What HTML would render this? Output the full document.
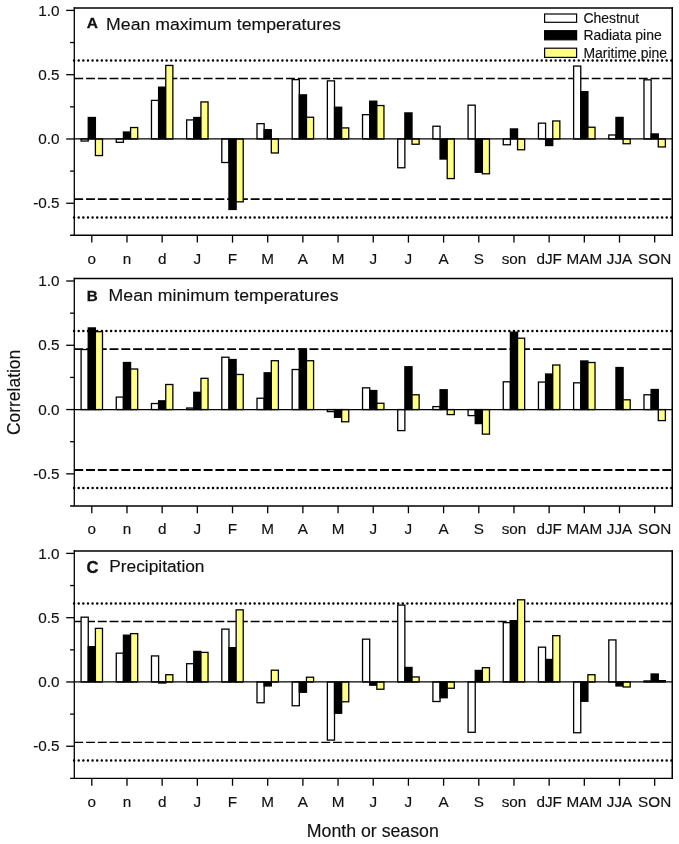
<!DOCTYPE html>
<html lang="en"><head><meta charset="utf-8"><title>Correlation by month or season</title>
<style>html,body{margin:0;padding:0;background:#fff}svg{display:block}</style></head>
<body>
<svg width="679" height="844" viewBox="0 0 679 844" font-family='"Liberation Sans", Arial, Helvetica, sans-serif' fill="#111" stroke="#111" stroke-width="0">
<rect width="679" height="844" fill="#fff"/>
<g><line x1="74.07" x2="673.4" y1="60.41" y2="60.41" stroke="#000" stroke-width="2.5" stroke-dasharray="0 4.63" stroke-linecap="round"/>
<line x1="74.07" x2="673.4" y1="217.46" y2="217.46" stroke="#000" stroke-width="2.5" stroke-dasharray="0 4.63" stroke-linecap="round"/>
<line x1="74.3" x2="672.4" y1="78.54" y2="78.54" stroke="#000" stroke-width="1.4" stroke-dasharray="8.9 2.86"/>
<line x1="74.3" x2="672.4" y1="199.21" y2="199.21" stroke="#000" stroke-width="1.8" stroke-dasharray="8.9 2.86"/>
<rect x="81.10" y="138.97" width="7.15" height="2.06" fill="#fff" stroke="#000" stroke-width="1.3"/>
<rect x="88.25" y="117.50" width="7.15" height="21.47" fill="#000" stroke="#000" stroke-width="1.3"/>
<rect x="95.40" y="138.97" width="7.10" height="16.59" fill="#ffff85" stroke="#000" stroke-width="1.3"/>
<rect x="116.28" y="138.97" width="7.15" height="3.34" fill="#fff" stroke="#000" stroke-width="1.3"/>
<rect x="123.43" y="132.03" width="7.15" height="6.94" fill="#000" stroke="#000" stroke-width="1.3"/>
<rect x="130.58" y="127.53" width="7.10" height="11.44" fill="#ffff85" stroke="#000" stroke-width="1.3"/>
<rect x="151.46" y="100.40" width="7.15" height="38.57" fill="#fff" stroke="#000" stroke-width="1.3"/>
<rect x="158.61" y="87.16" width="7.15" height="51.81" fill="#000" stroke="#000" stroke-width="1.3"/>
<rect x="165.76" y="65.43" width="7.10" height="73.54" fill="#ffff85" stroke="#000" stroke-width="1.3"/>
<rect x="186.64" y="119.94" width="7.15" height="19.03" fill="#fff" stroke="#000" stroke-width="1.3"/>
<rect x="193.79" y="117.50" width="7.15" height="21.47" fill="#000" stroke="#000" stroke-width="1.3"/>
<rect x="200.94" y="101.94" width="7.10" height="37.03" fill="#ffff85" stroke="#000" stroke-width="1.3"/>
<rect x="221.82" y="138.97" width="7.15" height="23.53" fill="#fff" stroke="#000" stroke-width="1.3"/>
<rect x="228.97" y="138.97" width="7.15" height="70.46" fill="#000" stroke="#000" stroke-width="1.3"/>
<rect x="236.12" y="138.97" width="7.10" height="62.87" fill="#ffff85" stroke="#000" stroke-width="1.3"/>
<rect x="257.00" y="123.67" width="7.15" height="15.30" fill="#fff" stroke="#000" stroke-width="1.3"/>
<rect x="264.15" y="129.71" width="7.15" height="9.26" fill="#000" stroke="#000" stroke-width="1.3"/>
<rect x="271.30" y="138.97" width="7.10" height="14.01" fill="#ffff85" stroke="#000" stroke-width="1.3"/>
<rect x="292.18" y="79.63" width="7.15" height="59.34" fill="#fff" stroke="#000" stroke-width="1.3"/>
<rect x="299.33" y="94.87" width="7.15" height="44.10" fill="#000" stroke="#000" stroke-width="1.3"/>
<rect x="306.48" y="117.24" width="7.10" height="21.73" fill="#ffff85" stroke="#000" stroke-width="1.3"/>
<rect x="327.36" y="80.86" width="7.15" height="58.11" fill="#fff" stroke="#000" stroke-width="1.3"/>
<rect x="334.51" y="107.21" width="7.15" height="31.76" fill="#000" stroke="#000" stroke-width="1.3"/>
<rect x="341.66" y="127.91" width="7.10" height="11.06" fill="#ffff85" stroke="#000" stroke-width="1.3"/>
<rect x="362.54" y="114.67" width="7.15" height="24.30" fill="#fff" stroke="#000" stroke-width="1.3"/>
<rect x="369.69" y="101.17" width="7.15" height="37.80" fill="#000" stroke="#000" stroke-width="1.3"/>
<rect x="376.84" y="105.54" width="7.10" height="33.43" fill="#ffff85" stroke="#000" stroke-width="1.3"/>
<rect x="397.72" y="138.97" width="7.15" height="28.80" fill="#fff" stroke="#000" stroke-width="1.3"/>
<rect x="404.87" y="112.93" width="7.15" height="26.04" fill="#000" stroke="#000" stroke-width="1.3"/>
<rect x="412.02" y="138.97" width="7.10" height="5.27" fill="#ffff85" stroke="#000" stroke-width="1.3"/>
<rect x="432.90" y="126.24" width="7.15" height="12.73" fill="#fff" stroke="#000" stroke-width="1.3"/>
<rect x="440.05" y="138.97" width="7.15" height="20.06" fill="#000" stroke="#000" stroke-width="1.3"/>
<rect x="447.20" y="138.97" width="7.10" height="39.60" fill="#ffff85" stroke="#000" stroke-width="1.3"/>
<rect x="468.08" y="105.16" width="7.15" height="33.81" fill="#fff" stroke="#000" stroke-width="1.3"/>
<rect x="475.23" y="138.97" width="7.15" height="33.30" fill="#000" stroke="#000" stroke-width="1.3"/>
<rect x="482.38" y="138.97" width="7.10" height="34.84" fill="#ffff85" stroke="#000" stroke-width="1.3"/>
<rect x="503.26" y="138.97" width="7.15" height="5.79" fill="#fff" stroke="#000" stroke-width="1.3"/>
<rect x="510.41" y="128.94" width="7.15" height="10.03" fill="#000" stroke="#000" stroke-width="1.3"/>
<rect x="517.56" y="138.97" width="7.10" height="10.80" fill="#ffff85" stroke="#000" stroke-width="1.3"/>
<rect x="538.44" y="123.16" width="7.15" height="15.81" fill="#fff" stroke="#000" stroke-width="1.3"/>
<rect x="545.59" y="138.97" width="7.15" height="6.56" fill="#000" stroke="#000" stroke-width="1.3"/>
<rect x="552.74" y="120.97" width="7.10" height="18.00" fill="#ffff85" stroke="#000" stroke-width="1.3"/>
<rect x="573.62" y="66.07" width="7.15" height="72.90" fill="#fff" stroke="#000" stroke-width="1.3"/>
<rect x="580.77" y="91.66" width="7.15" height="47.31" fill="#000" stroke="#000" stroke-width="1.3"/>
<rect x="587.92" y="127.21" width="7.10" height="11.76" fill="#ffff85" stroke="#000" stroke-width="1.3"/>
<rect x="608.80" y="134.98" width="7.15" height="3.99" fill="#fff" stroke="#000" stroke-width="1.3"/>
<rect x="615.95" y="117.43" width="7.15" height="21.54" fill="#000" stroke="#000" stroke-width="1.3"/>
<rect x="623.10" y="138.97" width="7.10" height="4.76" fill="#ffff85" stroke="#000" stroke-width="1.3"/>
<rect x="643.98" y="79.83" width="7.15" height="59.14" fill="#fff" stroke="#000" stroke-width="1.3"/>
<rect x="651.13" y="133.96" width="7.15" height="5.01" fill="#000" stroke="#000" stroke-width="1.3"/>
<rect x="658.28" y="138.97" width="7.10" height="7.97" fill="#ffff85" stroke="#000" stroke-width="1.3"/>
<line x1="74.3" x2="672.4" y1="138.97" y2="138.97" stroke="#000" stroke-width="1.3"/>
<line x1="74.3" x2="74.3" y1="7.2" y2="235.9" stroke="#000" stroke-width="1.3"/>
<line x1="672.25" x2="672.25" y1="7.2" y2="235.9" stroke="#000" stroke-width="1.55"/>
<line x1="73.7" x2="673.0" y1="7.9" y2="7.9" stroke="#000" stroke-width="1.5"/>
<line x1="70.1" x2="673.0" y1="235.3" y2="235.3" stroke="#000" stroke-width="1.5"/>
<line x1="66.2" x2="74.3" y1="10.40" y2="10.40" stroke="#000" stroke-width="1.3"/>
<text transform="translate(59.60,15.50) scale(1.055,1)" font-size="14.5" text-anchor="end" stroke-width="0.15">1.0</text>
<line x1="66.2" x2="74.3" y1="74.69" y2="74.69" stroke="#000" stroke-width="1.3"/>
<text transform="translate(59.60,79.78) scale(1.055,1)" font-size="14.5" text-anchor="end" stroke-width="0.15">0.5</text>
<line x1="66.2" x2="74.3" y1="138.97" y2="138.97" stroke="#000" stroke-width="1.3"/>
<text transform="translate(59.60,144.07) scale(1.055,1)" font-size="14.5" text-anchor="end" stroke-width="0.15">0.0</text>
<line x1="66.2" x2="74.3" y1="203.25" y2="203.25" stroke="#000" stroke-width="1.3"/>
<text transform="translate(59.60,208.35) scale(1.055,1)" font-size="14.5" text-anchor="end" stroke-width="0.15">-0.5</text>
<line x1="70.1" x2="74.3" y1="42.54" y2="42.54" stroke="#000" stroke-width="1.3"/>
<line x1="70.1" x2="74.3" y1="106.83" y2="106.83" stroke="#000" stroke-width="1.3"/>
<line x1="70.1" x2="74.3" y1="171.11" y2="171.11" stroke="#000" stroke-width="1.3"/>
<line x1="91.80" x2="91.80" y1="235.3" y2="242.60000000000002" stroke="#000" stroke-width="1.3"/>
<text transform="translate(91.80,263.70) scale(1.055,1)" font-size="14.5" text-anchor="middle" stroke-width="0.15">o</text>
<line x1="126.98" x2="126.98" y1="235.3" y2="242.60000000000002" stroke="#000" stroke-width="1.3"/>
<text transform="translate(126.98,263.70) scale(1.055,1)" font-size="14.5" text-anchor="middle" stroke-width="0.15">n</text>
<line x1="162.16" x2="162.16" y1="235.3" y2="242.60000000000002" stroke="#000" stroke-width="1.3"/>
<text transform="translate(162.16,263.70) scale(1.055,1)" font-size="14.5" text-anchor="middle" stroke-width="0.15">d</text>
<line x1="197.34" x2="197.34" y1="235.3" y2="242.60000000000002" stroke="#000" stroke-width="1.3"/>
<text transform="translate(197.34,263.70) scale(1.055,1)" font-size="14.5" text-anchor="middle" stroke-width="0.15">J</text>
<line x1="232.52" x2="232.52" y1="235.3" y2="242.60000000000002" stroke="#000" stroke-width="1.3"/>
<text transform="translate(232.52,263.70) scale(1.055,1)" font-size="14.5" text-anchor="middle" stroke-width="0.15">F</text>
<line x1="267.70" x2="267.70" y1="235.3" y2="242.60000000000002" stroke="#000" stroke-width="1.3"/>
<text transform="translate(267.70,263.70) scale(1.055,1)" font-size="14.5" text-anchor="middle" stroke-width="0.15">M</text>
<line x1="302.88" x2="302.88" y1="235.3" y2="242.60000000000002" stroke="#000" stroke-width="1.3"/>
<text transform="translate(302.88,263.70) scale(1.055,1)" font-size="14.5" text-anchor="middle" stroke-width="0.15">A</text>
<line x1="338.06" x2="338.06" y1="235.3" y2="242.60000000000002" stroke="#000" stroke-width="1.3"/>
<text transform="translate(338.06,263.70) scale(1.055,1)" font-size="14.5" text-anchor="middle" stroke-width="0.15">M</text>
<line x1="373.24" x2="373.24" y1="235.3" y2="242.60000000000002" stroke="#000" stroke-width="1.3"/>
<text transform="translate(373.24,263.70) scale(1.055,1)" font-size="14.5" text-anchor="middle" stroke-width="0.15">J</text>
<line x1="408.42" x2="408.42" y1="235.3" y2="242.60000000000002" stroke="#000" stroke-width="1.3"/>
<text transform="translate(408.42,263.70) scale(1.055,1)" font-size="14.5" text-anchor="middle" stroke-width="0.15">J</text>
<line x1="443.60" x2="443.60" y1="235.3" y2="242.60000000000002" stroke="#000" stroke-width="1.3"/>
<text transform="translate(443.60,263.70) scale(1.055,1)" font-size="14.5" text-anchor="middle" stroke-width="0.15">A</text>
<line x1="478.78" x2="478.78" y1="235.3" y2="242.60000000000002" stroke="#000" stroke-width="1.3"/>
<text transform="translate(478.78,263.70) scale(1.055,1)" font-size="14.5" text-anchor="middle" stroke-width="0.15">S</text>
<line x1="513.96" x2="513.96" y1="235.3" y2="242.60000000000002" stroke="#000" stroke-width="1.3"/>
<text transform="translate(513.96,263.70) scale(1.055,1)" font-size="14.5" text-anchor="middle" stroke-width="0.15">son</text>
<line x1="549.14" x2="549.14" y1="235.3" y2="242.60000000000002" stroke="#000" stroke-width="1.3"/>
<text transform="translate(549.14,263.70) scale(1.055,1)" font-size="14.5" text-anchor="middle" stroke-width="0.15">dJF</text>
<line x1="584.32" x2="584.32" y1="235.3" y2="242.60000000000002" stroke="#000" stroke-width="1.3"/>
<text transform="translate(584.32,263.70) scale(1.055,1)" font-size="14.5" text-anchor="middle" stroke-width="0.15">MAM</text>
<line x1="619.50" x2="619.50" y1="235.3" y2="242.60000000000002" stroke="#000" stroke-width="1.3"/>
<text transform="translate(619.50,263.70) scale(1.055,1)" font-size="14.5" text-anchor="middle" stroke-width="0.15">JJA</text>
<line x1="654.68" x2="654.68" y1="235.3" y2="242.60000000000002" stroke="#000" stroke-width="1.3"/>
<text transform="translate(654.68,263.70) scale(1.055,1)" font-size="14.5" text-anchor="middle" stroke-width="0.15">SON</text>
<text transform="translate(86.70,28.20)" font-size="15.5" font-weight="bold" stroke-width="0.3">A</text>
<text transform="translate(106.10,30.10) scale(1.028,1)" font-size="17.2" stroke-width="0.15">Mean maximum temperatures</text></g>
<g><line x1="74.07" x2="673.4" y1="331.01" y2="331.01" stroke="#000" stroke-width="2.5" stroke-dasharray="0 4.63" stroke-linecap="round"/>
<line x1="74.07" x2="673.4" y1="488.06" y2="488.06" stroke="#000" stroke-width="2.5" stroke-dasharray="0 4.63" stroke-linecap="round"/>
<line x1="74.3" x2="672.4" y1="349.14" y2="349.14" stroke="#000" stroke-width="1.6" stroke-dasharray="8.9 2.86"/>
<line x1="74.3" x2="672.4" y1="470.00" y2="470.00" stroke="#000" stroke-width="1.8" stroke-dasharray="8.9 2.86"/>
<rect x="81.10" y="349.53" width="7.15" height="60.04" fill="#fff" stroke="#000" stroke-width="1.3"/>
<rect x="88.25" y="327.93" width="7.15" height="81.64" fill="#000" stroke="#000" stroke-width="1.3"/>
<rect x="95.40" y="331.66" width="7.10" height="77.91" fill="#ffff85" stroke="#000" stroke-width="1.3"/>
<rect x="116.28" y="397.10" width="7.15" height="12.47" fill="#fff" stroke="#000" stroke-width="1.3"/>
<rect x="123.43" y="362.51" width="7.15" height="47.06" fill="#000" stroke="#000" stroke-width="1.3"/>
<rect x="130.58" y="369.01" width="7.10" height="40.56" fill="#ffff85" stroke="#000" stroke-width="1.3"/>
<rect x="151.46" y="403.53" width="7.15" height="6.04" fill="#fff" stroke="#000" stroke-width="1.3"/>
<rect x="158.61" y="400.83" width="7.15" height="8.74" fill="#000" stroke="#000" stroke-width="1.3"/>
<rect x="165.76" y="384.50" width="7.10" height="25.07" fill="#ffff85" stroke="#000" stroke-width="1.3"/>
<rect x="186.64" y="408.03" width="7.15" height="1.54" fill="#fff" stroke="#000" stroke-width="1.3"/>
<rect x="193.79" y="392.34" width="7.15" height="17.23" fill="#000" stroke="#000" stroke-width="1.3"/>
<rect x="200.94" y="378.33" width="7.10" height="31.24" fill="#ffff85" stroke="#000" stroke-width="1.3"/>
<rect x="221.82" y="357.24" width="7.15" height="52.33" fill="#fff" stroke="#000" stroke-width="1.3"/>
<rect x="228.97" y="359.56" width="7.15" height="50.01" fill="#000" stroke="#000" stroke-width="1.3"/>
<rect x="236.12" y="374.47" width="7.10" height="35.10" fill="#ffff85" stroke="#000" stroke-width="1.3"/>
<rect x="257.00" y="398.26" width="7.15" height="11.31" fill="#fff" stroke="#000" stroke-width="1.3"/>
<rect x="264.15" y="372.80" width="7.15" height="36.77" fill="#000" stroke="#000" stroke-width="1.3"/>
<rect x="271.30" y="360.71" width="7.10" height="48.86" fill="#ffff85" stroke="#000" stroke-width="1.3"/>
<rect x="292.18" y="369.51" width="7.15" height="40.06" fill="#fff" stroke="#000" stroke-width="1.3"/>
<rect x="299.33" y="349.01" width="7.15" height="60.56" fill="#000" stroke="#000" stroke-width="1.3"/>
<rect x="306.48" y="360.71" width="7.10" height="48.86" fill="#ffff85" stroke="#000" stroke-width="1.3"/>
<rect x="327.36" y="409.57" width="7.15" height="2.06" fill="#fff" stroke="#000" stroke-width="1.3"/>
<rect x="334.51" y="409.57" width="7.15" height="7.71" fill="#000" stroke="#000" stroke-width="1.3"/>
<rect x="341.66" y="409.57" width="7.10" height="12.21" fill="#ffff85" stroke="#000" stroke-width="1.3"/>
<rect x="362.54" y="387.84" width="7.15" height="21.73" fill="#fff" stroke="#000" stroke-width="1.3"/>
<rect x="369.69" y="390.54" width="7.15" height="19.03" fill="#000" stroke="#000" stroke-width="1.3"/>
<rect x="376.84" y="403.27" width="7.10" height="6.30" fill="#ffff85" stroke="#000" stroke-width="1.3"/>
<rect x="397.72" y="409.57" width="7.15" height="21.03" fill="#fff" stroke="#000" stroke-width="1.3"/>
<rect x="404.87" y="366.76" width="7.15" height="42.81" fill="#000" stroke="#000" stroke-width="1.3"/>
<rect x="412.02" y="394.78" width="7.10" height="14.79" fill="#ffff85" stroke="#000" stroke-width="1.3"/>
<rect x="432.90" y="406.61" width="7.15" height="2.96" fill="#fff" stroke="#000" stroke-width="1.3"/>
<rect x="440.05" y="389.77" width="7.15" height="19.80" fill="#000" stroke="#000" stroke-width="1.3"/>
<rect x="447.20" y="409.57" width="7.10" height="5.01" fill="#ffff85" stroke="#000" stroke-width="1.3"/>
<rect x="468.08" y="409.57" width="7.15" height="6.04" fill="#fff" stroke="#000" stroke-width="1.3"/>
<rect x="475.23" y="409.57" width="7.15" height="14.01" fill="#000" stroke="#000" stroke-width="1.3"/>
<rect x="482.38" y="409.57" width="7.10" height="24.56" fill="#ffff85" stroke="#000" stroke-width="1.3"/>
<rect x="503.26" y="381.80" width="7.15" height="27.77" fill="#fff" stroke="#000" stroke-width="1.3"/>
<rect x="510.41" y="332.17" width="7.15" height="77.40" fill="#000" stroke="#000" stroke-width="1.3"/>
<rect x="517.56" y="338.21" width="7.10" height="71.36" fill="#ffff85" stroke="#000" stroke-width="1.3"/>
<rect x="538.44" y="382.06" width="7.15" height="27.51" fill="#fff" stroke="#000" stroke-width="1.3"/>
<rect x="545.59" y="374.02" width="7.15" height="35.55" fill="#000" stroke="#000" stroke-width="1.3"/>
<rect x="552.74" y="365.01" width="7.10" height="44.56" fill="#ffff85" stroke="#000" stroke-width="1.3"/>
<rect x="573.62" y="382.83" width="7.15" height="26.74" fill="#fff" stroke="#000" stroke-width="1.3"/>
<rect x="580.77" y="360.97" width="7.15" height="48.60" fill="#000" stroke="#000" stroke-width="1.3"/>
<rect x="587.92" y="362.51" width="7.10" height="47.06" fill="#ffff85" stroke="#000" stroke-width="1.3"/>
<rect x="608.80" y="409.57" width="7.15" height="0.00" fill="#fff" stroke="#000" stroke-width="1.3"/>
<rect x="615.95" y="367.53" width="7.15" height="42.04" fill="#000" stroke="#000" stroke-width="1.3"/>
<rect x="623.10" y="399.80" width="7.10" height="9.77" fill="#ffff85" stroke="#000" stroke-width="1.3"/>
<rect x="643.98" y="394.78" width="7.15" height="14.79" fill="#fff" stroke="#000" stroke-width="1.3"/>
<rect x="651.13" y="389.51" width="7.15" height="20.06" fill="#000" stroke="#000" stroke-width="1.3"/>
<rect x="658.28" y="409.57" width="7.10" height="11.02" fill="#ffff85" stroke="#000" stroke-width="1.3"/>
<line x1="74.3" x2="672.4" y1="409.57" y2="409.57" stroke="#000" stroke-width="1.3"/>
<line x1="74.3" x2="74.3" y1="277.7" y2="506.55" stroke="#000" stroke-width="1.3"/>
<line x1="672.25" x2="672.25" y1="277.7" y2="506.55" stroke="#000" stroke-width="1.55"/>
<line x1="73.7" x2="673.0" y1="278.4" y2="278.4" stroke="#000" stroke-width="1.5"/>
<line x1="70.1" x2="673.0" y1="505.95" y2="505.95" stroke="#000" stroke-width="1.65"/>
<line x1="66.2" x2="74.3" y1="281.00" y2="281.00" stroke="#000" stroke-width="1.3"/>
<text transform="translate(59.60,286.10) scale(1.055,1)" font-size="14.5" text-anchor="end" stroke-width="0.15">1.0</text>
<line x1="66.2" x2="74.3" y1="345.28" y2="345.28" stroke="#000" stroke-width="1.3"/>
<text transform="translate(59.60,350.38) scale(1.055,1)" font-size="14.5" text-anchor="end" stroke-width="0.15">0.5</text>
<line x1="66.2" x2="74.3" y1="409.57" y2="409.57" stroke="#000" stroke-width="1.3"/>
<text transform="translate(59.60,414.67) scale(1.055,1)" font-size="14.5" text-anchor="end" stroke-width="0.15">0.0</text>
<line x1="66.2" x2="74.3" y1="473.86" y2="473.86" stroke="#000" stroke-width="1.3"/>
<text transform="translate(59.60,478.96) scale(1.055,1)" font-size="14.5" text-anchor="end" stroke-width="0.15">-0.5</text>
<line x1="70.1" x2="74.3" y1="313.14" y2="313.14" stroke="#000" stroke-width="1.3"/>
<line x1="70.1" x2="74.3" y1="377.43" y2="377.43" stroke="#000" stroke-width="1.3"/>
<line x1="70.1" x2="74.3" y1="441.71" y2="441.71" stroke="#000" stroke-width="1.3"/>
<line x1="91.80" x2="91.80" y1="505.95" y2="513.25" stroke="#000" stroke-width="1.3"/>
<text transform="translate(91.80,534.35) scale(1.055,1)" font-size="14.5" text-anchor="middle" stroke-width="0.15">o</text>
<line x1="126.98" x2="126.98" y1="505.95" y2="513.25" stroke="#000" stroke-width="1.3"/>
<text transform="translate(126.98,534.35) scale(1.055,1)" font-size="14.5" text-anchor="middle" stroke-width="0.15">n</text>
<line x1="162.16" x2="162.16" y1="505.95" y2="513.25" stroke="#000" stroke-width="1.3"/>
<text transform="translate(162.16,534.35) scale(1.055,1)" font-size="14.5" text-anchor="middle" stroke-width="0.15">d</text>
<line x1="197.34" x2="197.34" y1="505.95" y2="513.25" stroke="#000" stroke-width="1.3"/>
<text transform="translate(197.34,534.35) scale(1.055,1)" font-size="14.5" text-anchor="middle" stroke-width="0.15">J</text>
<line x1="232.52" x2="232.52" y1="505.95" y2="513.25" stroke="#000" stroke-width="1.3"/>
<text transform="translate(232.52,534.35) scale(1.055,1)" font-size="14.5" text-anchor="middle" stroke-width="0.15">F</text>
<line x1="267.70" x2="267.70" y1="505.95" y2="513.25" stroke="#000" stroke-width="1.3"/>
<text transform="translate(267.70,534.35) scale(1.055,1)" font-size="14.5" text-anchor="middle" stroke-width="0.15">M</text>
<line x1="302.88" x2="302.88" y1="505.95" y2="513.25" stroke="#000" stroke-width="1.3"/>
<text transform="translate(302.88,534.35) scale(1.055,1)" font-size="14.5" text-anchor="middle" stroke-width="0.15">A</text>
<line x1="338.06" x2="338.06" y1="505.95" y2="513.25" stroke="#000" stroke-width="1.3"/>
<text transform="translate(338.06,534.35) scale(1.055,1)" font-size="14.5" text-anchor="middle" stroke-width="0.15">M</text>
<line x1="373.24" x2="373.24" y1="505.95" y2="513.25" stroke="#000" stroke-width="1.3"/>
<text transform="translate(373.24,534.35) scale(1.055,1)" font-size="14.5" text-anchor="middle" stroke-width="0.15">J</text>
<line x1="408.42" x2="408.42" y1="505.95" y2="513.25" stroke="#000" stroke-width="1.3"/>
<text transform="translate(408.42,534.35) scale(1.055,1)" font-size="14.5" text-anchor="middle" stroke-width="0.15">J</text>
<line x1="443.60" x2="443.60" y1="505.95" y2="513.25" stroke="#000" stroke-width="1.3"/>
<text transform="translate(443.60,534.35) scale(1.055,1)" font-size="14.5" text-anchor="middle" stroke-width="0.15">A</text>
<line x1="478.78" x2="478.78" y1="505.95" y2="513.25" stroke="#000" stroke-width="1.3"/>
<text transform="translate(478.78,534.35) scale(1.055,1)" font-size="14.5" text-anchor="middle" stroke-width="0.15">S</text>
<line x1="513.96" x2="513.96" y1="505.95" y2="513.25" stroke="#000" stroke-width="1.3"/>
<text transform="translate(513.96,534.35) scale(1.055,1)" font-size="14.5" text-anchor="middle" stroke-width="0.15">son</text>
<line x1="549.14" x2="549.14" y1="505.95" y2="513.25" stroke="#000" stroke-width="1.3"/>
<text transform="translate(549.14,534.35) scale(1.055,1)" font-size="14.5" text-anchor="middle" stroke-width="0.15">dJF</text>
<line x1="584.32" x2="584.32" y1="505.95" y2="513.25" stroke="#000" stroke-width="1.3"/>
<text transform="translate(584.32,534.35) scale(1.055,1)" font-size="14.5" text-anchor="middle" stroke-width="0.15">MAM</text>
<line x1="619.50" x2="619.50" y1="505.95" y2="513.25" stroke="#000" stroke-width="1.3"/>
<text transform="translate(619.50,534.35) scale(1.055,1)" font-size="14.5" text-anchor="middle" stroke-width="0.15">JJA</text>
<line x1="654.68" x2="654.68" y1="505.95" y2="513.25" stroke="#000" stroke-width="1.3"/>
<text transform="translate(654.68,534.35) scale(1.055,1)" font-size="14.5" text-anchor="middle" stroke-width="0.15">SON</text>
<text transform="translate(86.70,300.70)" font-size="15.2" font-weight="bold" stroke-width="0.3">B</text>
<text transform="translate(108.60,300.70) scale(1.028,1)" font-size="17.2" stroke-width="0.15">Mean minimum temperatures</text></g>
<g><line x1="74.07" x2="673.4" y1="603.41" y2="603.41" stroke="#000" stroke-width="2.5" stroke-dasharray="0 4.63" stroke-linecap="round"/>
<line x1="74.07" x2="673.4" y1="760.46" y2="760.46" stroke="#000" stroke-width="2.5" stroke-dasharray="0 4.63" stroke-linecap="round"/>
<line x1="74.3" x2="672.4" y1="621.54" y2="621.54" stroke="#000" stroke-width="1.5" stroke-dasharray="8.9 2.86"/>
<line x1="74.3" x2="672.4" y1="742.40" y2="742.40" stroke="#000" stroke-width="1.1" stroke-dasharray="8.9 2.86"/>
<rect x="81.10" y="617.17" width="7.15" height="64.80" fill="#fff" stroke="#000" stroke-width="1.3"/>
<rect x="88.25" y="646.66" width="7.15" height="35.31" fill="#000" stroke="#000" stroke-width="1.3"/>
<rect x="95.40" y="628.39" width="7.10" height="53.58" fill="#ffff85" stroke="#000" stroke-width="1.3"/>
<rect x="116.28" y="653.17" width="7.15" height="28.80" fill="#fff" stroke="#000" stroke-width="1.3"/>
<rect x="123.43" y="635.17" width="7.15" height="46.80" fill="#000" stroke="#000" stroke-width="1.3"/>
<rect x="130.58" y="633.63" width="7.10" height="48.34" fill="#ffff85" stroke="#000" stroke-width="1.3"/>
<rect x="151.46" y="655.93" width="7.15" height="26.04" fill="#fff" stroke="#000" stroke-width="1.3"/>
<rect x="158.61" y="681.97" width="7.15" height="1.03" fill="#000" stroke="#000" stroke-width="1.3"/>
<rect x="165.76" y="674.71" width="7.10" height="7.26" fill="#ffff85" stroke="#000" stroke-width="1.3"/>
<rect x="186.64" y="663.71" width="7.15" height="18.26" fill="#fff" stroke="#000" stroke-width="1.3"/>
<rect x="193.79" y="651.42" width="7.15" height="30.55" fill="#000" stroke="#000" stroke-width="1.3"/>
<rect x="200.94" y="652.40" width="7.10" height="29.57" fill="#ffff85" stroke="#000" stroke-width="1.3"/>
<rect x="221.82" y="629.13" width="7.15" height="52.84" fill="#fff" stroke="#000" stroke-width="1.3"/>
<rect x="228.97" y="647.64" width="7.15" height="34.33" fill="#000" stroke="#000" stroke-width="1.3"/>
<rect x="236.12" y="609.84" width="7.10" height="72.13" fill="#ffff85" stroke="#000" stroke-width="1.3"/>
<rect x="257.00" y="681.97" width="7.15" height="20.78" fill="#fff" stroke="#000" stroke-width="1.3"/>
<rect x="264.15" y="681.97" width="7.15" height="3.99" fill="#000" stroke="#000" stroke-width="1.3"/>
<rect x="271.30" y="670.21" width="7.10" height="11.76" fill="#ffff85" stroke="#000" stroke-width="1.3"/>
<rect x="292.18" y="681.97" width="7.15" height="23.79" fill="#fff" stroke="#000" stroke-width="1.3"/>
<rect x="299.33" y="681.97" width="7.15" height="10.29" fill="#000" stroke="#000" stroke-width="1.3"/>
<rect x="306.48" y="677.21" width="7.10" height="4.76" fill="#ffff85" stroke="#000" stroke-width="1.3"/>
<rect x="327.36" y="681.97" width="7.15" height="58.11" fill="#fff" stroke="#000" stroke-width="1.3"/>
<rect x="334.51" y="681.97" width="7.15" height="31.29" fill="#000" stroke="#000" stroke-width="1.3"/>
<rect x="341.66" y="681.97" width="7.10" height="19.80" fill="#ffff85" stroke="#000" stroke-width="1.3"/>
<rect x="362.54" y="639.16" width="7.15" height="42.81" fill="#fff" stroke="#000" stroke-width="1.3"/>
<rect x="369.69" y="681.97" width="7.15" height="3.21" fill="#000" stroke="#000" stroke-width="1.3"/>
<rect x="376.84" y="681.97" width="7.10" height="7.26" fill="#ffff85" stroke="#000" stroke-width="1.3"/>
<rect x="397.72" y="605.09" width="7.15" height="76.88" fill="#fff" stroke="#000" stroke-width="1.3"/>
<rect x="404.87" y="667.44" width="7.15" height="14.53" fill="#000" stroke="#000" stroke-width="1.3"/>
<rect x="412.02" y="676.96" width="7.10" height="5.01" fill="#ffff85" stroke="#000" stroke-width="1.3"/>
<rect x="432.90" y="681.97" width="7.15" height="19.54" fill="#fff" stroke="#000" stroke-width="1.3"/>
<rect x="440.05" y="681.97" width="7.15" height="15.78" fill="#000" stroke="#000" stroke-width="1.3"/>
<rect x="447.20" y="681.97" width="7.10" height="6.26" fill="#ffff85" stroke="#000" stroke-width="1.3"/>
<rect x="468.08" y="681.97" width="7.15" height="50.32" fill="#fff" stroke="#000" stroke-width="1.3"/>
<rect x="475.23" y="670.45" width="7.15" height="11.52" fill="#000" stroke="#000" stroke-width="1.3"/>
<rect x="482.38" y="667.70" width="7.10" height="14.27" fill="#ffff85" stroke="#000" stroke-width="1.3"/>
<rect x="503.26" y="622.63" width="7.15" height="59.34" fill="#fff" stroke="#000" stroke-width="1.3"/>
<rect x="510.41" y="620.64" width="7.15" height="61.33" fill="#000" stroke="#000" stroke-width="1.3"/>
<rect x="517.56" y="599.81" width="7.10" height="82.16" fill="#ffff85" stroke="#000" stroke-width="1.3"/>
<rect x="538.44" y="647.17" width="7.15" height="34.80" fill="#fff" stroke="#000" stroke-width="1.3"/>
<rect x="545.59" y="659.47" width="7.15" height="22.50" fill="#000" stroke="#000" stroke-width="1.3"/>
<rect x="552.74" y="635.68" width="7.10" height="46.29" fill="#ffff85" stroke="#000" stroke-width="1.3"/>
<rect x="573.62" y="681.97" width="7.15" height="50.79" fill="#fff" stroke="#000" stroke-width="1.3"/>
<rect x="580.77" y="681.97" width="7.15" height="19.29" fill="#000" stroke="#000" stroke-width="1.3"/>
<rect x="587.92" y="674.71" width="7.10" height="7.26" fill="#ffff85" stroke="#000" stroke-width="1.3"/>
<rect x="608.80" y="639.93" width="7.15" height="42.04" fill="#fff" stroke="#000" stroke-width="1.3"/>
<rect x="615.95" y="681.97" width="7.15" height="3.99" fill="#000" stroke="#000" stroke-width="1.3"/>
<rect x="623.10" y="681.97" width="7.10" height="5.01" fill="#ffff85" stroke="#000" stroke-width="1.3"/>
<rect x="643.98" y="680.94" width="7.15" height="1.03" fill="#fff" stroke="#000" stroke-width="1.3"/>
<rect x="651.13" y="674.00" width="7.15" height="7.97" fill="#000" stroke="#000" stroke-width="1.3"/>
<rect x="658.28" y="680.68" width="7.10" height="1.29" fill="#ffff85" stroke="#000" stroke-width="1.3"/>
<line x1="74.3" x2="672.4" y1="681.97" y2="681.97" stroke="#000" stroke-width="1.3"/>
<line x1="74.3" x2="74.3" y1="550.3" y2="779.0" stroke="#000" stroke-width="1.3"/>
<line x1="672.25" x2="672.25" y1="550.3" y2="779.0" stroke="#000" stroke-width="1.55"/>
<line x1="73.7" x2="673.0" y1="551.0" y2="551.0" stroke="#000" stroke-width="1.5"/>
<line x1="70.1" x2="673.0" y1="778.4" y2="778.4" stroke="#000" stroke-width="1.3"/>
<line x1="66.2" x2="74.3" y1="553.40" y2="553.40" stroke="#000" stroke-width="1.3"/>
<text transform="translate(59.60,558.50) scale(1.055,1)" font-size="14.5" text-anchor="end" stroke-width="0.15">1.0</text>
<line x1="66.2" x2="74.3" y1="617.69" y2="617.69" stroke="#000" stroke-width="1.3"/>
<text transform="translate(59.60,622.79) scale(1.055,1)" font-size="14.5" text-anchor="end" stroke-width="0.15">0.5</text>
<line x1="66.2" x2="74.3" y1="681.97" y2="681.97" stroke="#000" stroke-width="1.3"/>
<text transform="translate(59.60,687.07) scale(1.055,1)" font-size="14.5" text-anchor="end" stroke-width="0.15">0.0</text>
<line x1="66.2" x2="74.3" y1="746.25" y2="746.25" stroke="#000" stroke-width="1.3"/>
<text transform="translate(59.60,751.36) scale(1.055,1)" font-size="14.5" text-anchor="end" stroke-width="0.15">-0.5</text>
<line x1="70.1" x2="74.3" y1="585.54" y2="585.54" stroke="#000" stroke-width="1.3"/>
<line x1="70.1" x2="74.3" y1="649.83" y2="649.83" stroke="#000" stroke-width="1.3"/>
<line x1="70.1" x2="74.3" y1="714.11" y2="714.11" stroke="#000" stroke-width="1.3"/>
<line x1="91.80" x2="91.80" y1="778.4" y2="785.6999999999999" stroke="#000" stroke-width="1.3"/>
<text transform="translate(91.80,806.80) scale(1.055,1)" font-size="14.5" text-anchor="middle" stroke-width="0.15">o</text>
<line x1="126.98" x2="126.98" y1="778.4" y2="785.6999999999999" stroke="#000" stroke-width="1.3"/>
<text transform="translate(126.98,806.80) scale(1.055,1)" font-size="14.5" text-anchor="middle" stroke-width="0.15">n</text>
<line x1="162.16" x2="162.16" y1="778.4" y2="785.6999999999999" stroke="#000" stroke-width="1.3"/>
<text transform="translate(162.16,806.80) scale(1.055,1)" font-size="14.5" text-anchor="middle" stroke-width="0.15">d</text>
<line x1="197.34" x2="197.34" y1="778.4" y2="785.6999999999999" stroke="#000" stroke-width="1.3"/>
<text transform="translate(197.34,806.80) scale(1.055,1)" font-size="14.5" text-anchor="middle" stroke-width="0.15">J</text>
<line x1="232.52" x2="232.52" y1="778.4" y2="785.6999999999999" stroke="#000" stroke-width="1.3"/>
<text transform="translate(232.52,806.80) scale(1.055,1)" font-size="14.5" text-anchor="middle" stroke-width="0.15">F</text>
<line x1="267.70" x2="267.70" y1="778.4" y2="785.6999999999999" stroke="#000" stroke-width="1.3"/>
<text transform="translate(267.70,806.80) scale(1.055,1)" font-size="14.5" text-anchor="middle" stroke-width="0.15">M</text>
<line x1="302.88" x2="302.88" y1="778.4" y2="785.6999999999999" stroke="#000" stroke-width="1.3"/>
<text transform="translate(302.88,806.80) scale(1.055,1)" font-size="14.5" text-anchor="middle" stroke-width="0.15">A</text>
<line x1="338.06" x2="338.06" y1="778.4" y2="785.6999999999999" stroke="#000" stroke-width="1.3"/>
<text transform="translate(338.06,806.80) scale(1.055,1)" font-size="14.5" text-anchor="middle" stroke-width="0.15">M</text>
<line x1="373.24" x2="373.24" y1="778.4" y2="785.6999999999999" stroke="#000" stroke-width="1.3"/>
<text transform="translate(373.24,806.80) scale(1.055,1)" font-size="14.5" text-anchor="middle" stroke-width="0.15">J</text>
<line x1="408.42" x2="408.42" y1="778.4" y2="785.6999999999999" stroke="#000" stroke-width="1.3"/>
<text transform="translate(408.42,806.80) scale(1.055,1)" font-size="14.5" text-anchor="middle" stroke-width="0.15">J</text>
<line x1="443.60" x2="443.60" y1="778.4" y2="785.6999999999999" stroke="#000" stroke-width="1.3"/>
<text transform="translate(443.60,806.80) scale(1.055,1)" font-size="14.5" text-anchor="middle" stroke-width="0.15">A</text>
<line x1="478.78" x2="478.78" y1="778.4" y2="785.6999999999999" stroke="#000" stroke-width="1.3"/>
<text transform="translate(478.78,806.80) scale(1.055,1)" font-size="14.5" text-anchor="middle" stroke-width="0.15">S</text>
<line x1="513.96" x2="513.96" y1="778.4" y2="785.6999999999999" stroke="#000" stroke-width="1.3"/>
<text transform="translate(513.96,806.80) scale(1.055,1)" font-size="14.5" text-anchor="middle" stroke-width="0.15">son</text>
<line x1="549.14" x2="549.14" y1="778.4" y2="785.6999999999999" stroke="#000" stroke-width="1.3"/>
<text transform="translate(549.14,806.80) scale(1.055,1)" font-size="14.5" text-anchor="middle" stroke-width="0.15">dJF</text>
<line x1="584.32" x2="584.32" y1="778.4" y2="785.6999999999999" stroke="#000" stroke-width="1.3"/>
<text transform="translate(584.32,806.80) scale(1.055,1)" font-size="14.5" text-anchor="middle" stroke-width="0.15">MAM</text>
<line x1="619.50" x2="619.50" y1="778.4" y2="785.6999999999999" stroke="#000" stroke-width="1.3"/>
<text transform="translate(619.50,806.80) scale(1.055,1)" font-size="14.5" text-anchor="middle" stroke-width="0.15">JJA</text>
<line x1="654.68" x2="654.68" y1="778.4" y2="785.6999999999999" stroke="#000" stroke-width="1.3"/>
<text transform="translate(654.68,806.80) scale(1.055,1)" font-size="14.5" text-anchor="middle" stroke-width="0.15">SON</text>
<text transform="translate(86.40,572.50)" font-size="16.6" font-weight="bold" stroke-width="0.3">C</text>
<text transform="translate(109.20,572.20) scale(1.008,1)" font-size="17.2" stroke-width="0.15">Precipitation</text></g>
<rect x="544.6" y="14.0" width="32" height="8.30" fill="#fff" stroke="#000" stroke-width="1.2"/>
<text transform="translate(583.40,22.60) scale(0.99,1)" font-size="14.1" stroke-width="0.15">Chestnut</text>
<rect x="544.6" y="30.7" width="32" height="9.10" fill="#000" stroke="#000" stroke-width="1.2"/>
<text transform="translate(583.40,40.10) scale(0.99,1)" font-size="14.1" stroke-width="0.15">Radiata pine</text>
<rect x="544.6" y="48.2" width="32" height="9.20" fill="#ffff85" stroke="#000" stroke-width="1.2"/>
<text transform="translate(583.40,57.70) scale(0.99,1)" font-size="14.1" stroke-width="0.15">Maritime pine</text>
<text transform="translate(372.80,837.20) scale(1.008,1)" font-size="17.6" text-anchor="middle" stroke-width="0.15">Month or season</text>
<text transform="translate(19.50,392.40) rotate(-90) scale(0.969,1)" font-size="18" text-anchor="middle" stroke-width="0.15">Correlation</text>
</svg>
</body></html>
